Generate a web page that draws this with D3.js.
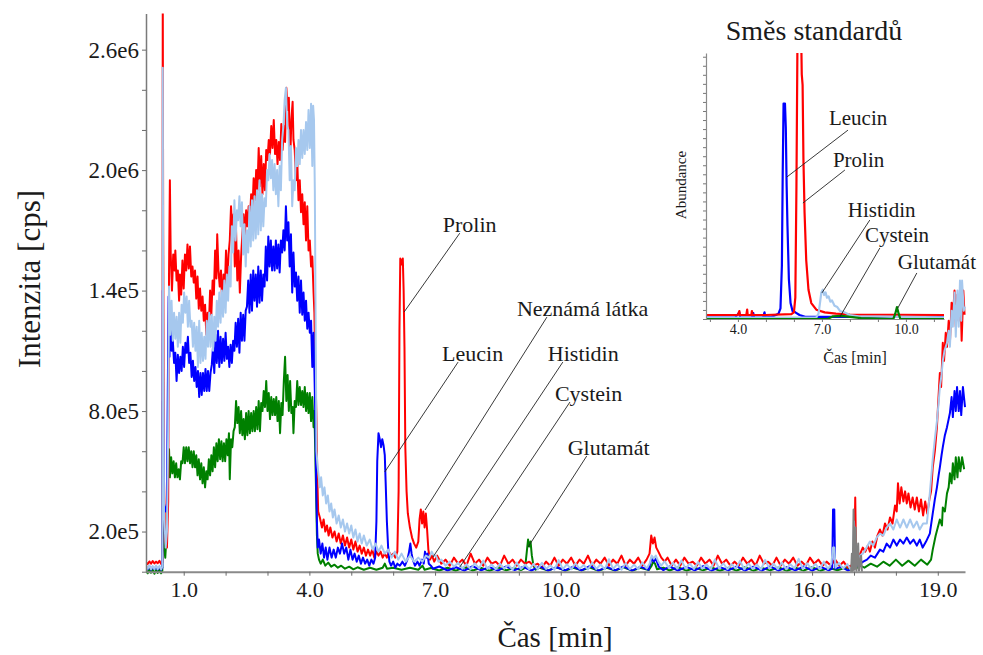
<!DOCTYPE html>
<html>
<head>
<meta charset="utf-8">
<script src="https://cdn.jsdelivr.net/npm/d3@7"></script>
<style>
html, body { margin: 0; padding: 0; background: #fff; }
svg { display: block; font-family: "Liberation Serif", "Times New Roman", serif; }
</style>
</head>
<body>
<svg id="chart" width="983" height="655"></svg>
<script>
// ---- Main chromatogram: time [min] vs intensity (units of 1e4 cps) ----
const timeDomain = [0.1, 19.65];
const intensityDomain = [0, 278];
const yTickValues = [0, 20, 40, 60, 80, 100, 120, 140, 160, 180, 200, 220, 240, 260];
const yLabelValues = [20, 80, 140, 200, 260];
const yTickLabels = ["2.0e5", "8.0e5", "1.4e5", "2.0e6", "2.6e6"];
const xTickValues = [1, 2, 3, 4, 5, 6, 7, 8, 9, 10, 11, 12, 13, 14, 15, 16, 17, 18, 19];
const xLabelValues = [1, 4, 7, 10, 13, 16, 19];
const xTickLabels = ["1.0", "4.0", "7.0", "10.0", "13.0", "16.0", "19.0"];

const red = [
[0.10,4.6],[0.14,3.8],[0.18,5.1],[0.22,4.0],[0.26,5.3],[0.30,4.1],[0.34,5.0],[0.38,4.2],[0.42,5.4],[0.46,3.9],[0.49,4.7],
[0.50,292],[0.51,170],[0.53,45],[0.56,15],[0.60,12],[0.63,35],[0.65,150],[0.67,195],[0.69,158],
[0.72,140],[0.75,158],[0.78,150],[0.80,160],[0.83,145],[0.86,150],[0.89,135],[0.91,148],[0.94,138],[0.97,155],[1.00,141],[1.03,158],[1.06,150],[1.09,163],[1.12,151],[1.15,162],[1.18,147],[1.21,152],[1.24,144],[1.27,150],[1.30,136],[1.33,147],[1.36,131],[1.39,141],[1.42,130],[1.45,137],[1.48,125],[1.51,133],[1.54,118],[1.57,129],[1.60,122],[1.63,140],[1.66,128],[1.69,145],[1.72,138],[1.75,160],[1.78,146],[1.80,168],[1.83,150],[1.86,142],[1.89,150],[1.92,132],[1.95,148],[1.98,140],[2.01,160],[2.04,143],[2.07,158],[2.10,165],[2.13,182],[2.16,168],[2.19,178],[2.22,152],[2.25,170],[2.28,145],[2.31,160],[2.34,139],[2.37,157],[2.40,168],[2.43,178],[2.46,167],[2.49,180],[2.52,172],[2.55,182],[2.58,175],[2.61,188],[2.64,180],[2.67,196],[2.70,185],[2.73,200],[2.76,190],[2.79,211],[2.82,192],[2.85,207],[2.88,188],[2.91,203],[2.94,190],[2.97,210],[3.00,205],[3.03,215],[3.06,208],[3.09,222],[3.12,211],[3.15,225],[3.18,208],[3.21,215],[3.24,203],[3.27,214],[3.30,205],[3.33,223],[3.36,210],[3.39,222],[3.42,214],[3.45,241],[3.48,230],[3.51,236],[3.54,203],[3.57,225],[3.60,234],[3.62,215],[3.65,210],[3.68,195],[3.71,205],[3.74,185],[3.77,195],[3.80,179],[3.83,188],[3.86,173],[3.89,184],[3.92,165],[3.95,182],[3.98,160],[4.01,165],[4.04,152],[4.07,157],[4.10,139],[4.12,129],[4.14,104],[4.17,75],[4.19,46],[4.21,30],
[4.25,27],[4.30,22],[4.34,26],[4.38,20],[4.42,23],[4.46,18],[4.50,22],[4.55,17],[4.60,20],[4.65,15],[4.70,19],[4.75,14],[4.80,18],[4.85,13],[4.90,17],[4.95,12],[5.00,16],[5.05,11],[5.10,15],[5.15,10],[5.20,13],[5.25,9],[5.30,12],[5.35,8],[5.40,11],[5.45,8],[5.50,11],[5.55,7],[5.60,10],[5.65,8],[5.70,10],[5.75,7],[5.80,9],[5.85,7],[5.90,10],[5.95,8],[6.00,9],[6.05,7],[6.10,10],
[6.13,40],[6.15,120],[6.17,156],[6.20,153],[6.23,156],[6.25,140],[6.27,112],[6.29,62],[6.32,40],[6.35,29],[6.40,22],[6.45,17],[6.50,14],[6.55,12],[6.60,15],[6.63,26],[6.66,31],[6.69,24],[6.72,30],[6.75,22],[6.78,29],[6.81,21],[6.84,11],[6.88,6],[6.93,8],[6.98,5],
[7.05,8],[7.15,4],[7.25,6],[7.35,3],[7.45,7],[7.55,4],[7.65,6],[7.75,3],[7.85,9],[7.95,4],[8.05,6],[8.15,3],[8.25,7],[8.35,4],[8.45,5],[8.55,3],[8.65,8],[8.75,4],[8.85,6],[8.95,3],[9.05,6],[9.15,4],[9.25,5],[9.35,3],[9.45,4],[9.55,2],[9.65,5],[9.75,3],[9.85,7],[9.95,3],[10.05,6],[10.15,4],[10.25,7],[10.35,3],[10.45,6],[10.55,4],[10.65,8],[10.75,3],[10.85,6],[10.95,4],[11.05,7],[11.15,3],[11.25,6],[11.35,4],[11.45,8],[11.55,3],[11.65,6],[11.75,4],[11.85,7],[11.95,3],[12.05,6],
[12.12,9],[12.16,18],[12.20,14],[12.24,17],[12.28,12],[12.33,10],[12.40,7],[12.48,5],
[12.55,7],[12.65,3],[12.75,6],[12.85,3],[12.95,7],[13.05,4],[13.15,5],[13.25,3],[13.35,7],[13.45,4],[13.55,6],[13.65,3],[13.75,8],[13.85,4],[13.95,6],[14.05,3],[14.15,5],[14.25,3],[14.35,7],[14.45,4],[14.55,6],[14.65,3],[14.75,8],[14.85,4],[14.95,5],[15.05,3],[15.15,7],[15.25,3],[15.35,6],[15.45,4],[15.55,7],[15.65,3],[15.75,5],[15.85,3],[15.95,7],[16.05,4],[16.15,6],[16.25,3],[16.35,5],[16.45,3],[16.55,6],[16.65,3],[16.75,5],[16.85,2],[16.92,3],[16.97,2],
[17.01,10],[17.03,37],[17.05,8],[17.10,6],[17.15,9],[17.21,12],[17.27,10],[17.33,13],[17.38,10],[17.44,15],[17.50,12],[17.56,18],[17.62,21],[17.68,18],[17.74,24],[17.80,21],[17.86,27],[17.92,24],[17.98,33],[18.02,30],[18.05,44],[18.09,34],[18.13,42],[18.18,35],[18.22,40],[18.26,34],[18.30,39],[18.35,32],[18.40,37],[18.45,31],[18.50,37],[18.55,30],[18.60,36],[18.65,28],[18.70,35],[18.75,29],[18.80,36],[18.84,40],[18.88,52],[18.93,60],[18.98,72],[19.01,84],[19.05,99],[19.08,92],[19.12,114],[19.15,105],[19.19,119],[19.22,112],[19.26,125],[19.29,114],[19.33,134],[19.36,127],[19.40,140],[19.43,122],[19.47,138],[19.50,125],[19.54,140],[19.57,115],[19.61,140],[19.64,128]
];

const blue = [
[0.10,2.5],[0.14,1.2],[0.18,2.8],[0.22,1.0],[0.26,2.4],[0.30,1.3],[0.34,2.6],[0.38,1.1],[0.42,2.2],[0.46,1.0],[0.49,2.0],
[0.50,140],[0.51,70],[0.53,33],[0.57,30],[0.60,34],[0.62,90],[0.64,137],[0.66,107],[0.68,130],[0.71,110],[0.74,115],[0.77,104],[0.80,109],[0.83,95],[0.86,108],[0.89,99],[0.92,107],[0.95,100],[0.98,112],[1.01,102],[1.04,114],[1.07,109],[1.10,117],[1.13,104],[1.16,109],[1.19,97],[1.22,105],[1.25,95],[1.28,102],[1.31,92],[1.34,100],[1.37,87],[1.40,99],[1.43,88],[1.46,99],[1.49,90],[1.52,101],[1.55,90],[1.58,100],[1.61,90],[1.64,99],[1.67,103],[1.70,112],[1.73,99],[1.76,118],[1.79,104],[1.82,120],[1.85,102],[1.88,117],[1.91,104],[1.94,116],[1.97,105],[2.00,119],[2.03,106],[2.06,112],[2.09,102],[2.12,113],[2.15,104],[2.18,115],[2.21,110],[2.24,124],[2.27,112],[2.30,126],[2.33,109],[2.36,129],[2.39,115],[2.42,128],[2.45,115],[2.48,130],[2.51,132],[2.54,145],[2.57,129],[2.60,148],[2.63,130],[2.66,150],[2.69,135],[2.72,148],[2.75,132],[2.78,152],[2.81,134],[2.84,150],[2.87,135],[2.90,148],[2.93,142],[2.96,162],[2.99,145],[3.02,167],[3.05,152],[3.08,165],[3.11,150],[3.14,162],[3.17,150],[3.20,165],[3.23,151],[3.26,163],[3.29,149],[3.32,165],[3.35,159],[3.38,170],[3.41,160],[3.44,182],[3.47,165],[3.50,174],[3.53,152],[3.56,168],[3.59,139],[3.62,159],[3.65,142],[3.68,149],[3.71,135],[3.74,147],[3.77,129],[3.80,145],[3.83,128],[3.86,139],[3.89,125],[3.92,135],[3.95,121],[3.98,129],[4.01,119],[4.04,125],[4.07,102],[4.10,119],[4.12,100],[4.14,79],[4.16,46],[4.18,25],[4.20,12],
[4.23,16],[4.27,9],[4.31,14],[4.35,7],[4.39,12],[4.43,6],[4.48,12],[4.53,7],[4.58,11],[4.63,7],[4.68,12],[4.73,9],[4.78,14],[4.83,9],[4.88,12],[4.93,6],[4.98,11],[5.03,6],[5.08,9],[5.13,5],[5.18,8],[5.23,4],[5.28,7],[5.33,4],[5.38,6],[5.43,3],[5.48,6],[5.53,4],[5.57,7],
[5.60,25],[5.62,55],[5.65,69],[5.68,66],[5.71,62],[5.74,66],[5.77,63],[5.80,58],[5.82,45],[5.85,25],[5.88,12],[5.91,5],[5.95,3],[6.00,5],[6.05,2],[6.10,4],[6.16,3],[6.22,5],[6.28,3],[6.34,6],[6.38,10],[6.41,14],[6.44,9],[6.47,6],[6.52,3],[6.58,5],[6.63,3],[6.69,6],[6.73,4],[6.76,10],[6.79,7],[6.82,9],[6.85,4],[6.90,3],[6.95,1.5],
[7.1,2.6],[7.3,0.6],[7.5,2.2],[7.7,0.5],[7.9,2.8],[8.1,0.7],[8.3,2.3],[8.5,0.5],[8.7,2.6],[8.9,0.8],[9.1,2.4],[9.3,0.6],[9.5,2.7],[9.7,0.5],[9.9,2.2],[10.1,0.7],[10.3,2.5],[10.5,0.6],[10.7,2.9],[10.9,0.5],[11.1,2.3],[11.3,0.7],[11.5,2.6],[11.7,0.5],[11.9,2.4],[12.1,1.0],[12.17,7],[12.22,5],[12.27,6.5],[12.34,2.5],[12.45,0.8],[12.6,2.6],[12.8,0.6],[13.0,2.4],[13.2,0.7],[13.4,2.8],[13.6,0.5],[13.8,2.3],[14.0,0.7],[14.2,2.6],[14.4,0.5],[14.6,2.5],[14.8,0.6],[15.0,2.7],[15.2,0.5],[15.4,2.3],[15.6,0.7],[15.8,2.6],[16.0,0.5],[16.2,2.4],[16.4,0.7],[16.48,1.5],[16.50,31],[16.53,31],[16.55,1.5],[16.7,2.4],[16.85,0.6],[16.97,1.5],
[17.03,6],[17.08,3],[17.15,4],[17.22,5],[17.31,6],[17.40,8],[17.50,7],[17.62,11],[17.70,10],[17.78,14],[17.86,12],[17.94,16],[18.02,13],[18.10,16],[18.18,14],[18.26,17],[18.34,14],[18.42,16],[18.50,13],[18.57,16],[18.64,12],[18.72,15],[18.81,19],[18.88,29],[18.93,36],[18.98,42],[19.02,48],[19.05,52],[19.09,58],[19.12,62],[19.17,68],[19.22,72],[19.26,76],[19.29,79],[19.33,87],[19.36,77],[19.40,90],[19.43,80],[19.46,92],[19.50,80],[19.53,90],[19.56,78],[19.60,92],[19.65,82]
];

const lightBlue = [
[0.10,3.0],[0.14,1.5],[0.18,3.2],[0.22,1.2],[0.26,2.8],[0.30,1.4],[0.34,3.1],[0.38,1.3],[0.42,2.9],[0.46,1.2],[0.49,2.5],
[0.50,251],[0.51,120],[0.53,30],[0.57,12],[0.60,20],[0.63,70],[0.65,142],[0.68,118],[0.71,135],[0.74,115],[0.77,129],[0.80,116],[0.83,127],[0.86,112],[0.89,129],[0.92,114],[0.95,133],[0.98,124],[1.01,139],[1.04,129],[1.07,137],[1.10,122],[1.13,135],[1.16,122],[1.19,125],[1.22,112],[1.25,124],[1.28,110],[1.31,122],[1.34,102],[1.37,125],[1.40,104],[1.43,119],[1.46,105],[1.49,117],[1.52,106],[1.55,125],[1.58,112],[1.61,129],[1.64,112],[1.67,128],[1.70,110],[1.73,127],[1.76,115],[1.79,135],[1.82,122],[1.85,139],[1.88,124],[1.91,140],[1.94,127],[1.97,145],[2.00,129],[2.03,148],[2.06,135],[2.09,152],[2.12,142],[2.15,172],[2.18,159],[2.21,185],[2.24,165],[2.27,180],[2.30,175],[2.33,187],[2.36,172],[2.39,184],[2.42,158],[2.45,173],[2.48,152],[2.51,170],[2.54,159],[2.57,182],[2.60,162],[2.63,185],[2.66,165],[2.69,187],[2.72,166],[2.75,190],[2.78,168],[2.81,195],[2.84,170],[2.87,188],[2.90,172],[2.93,186],[2.96,182],[2.99,200],[3.02,195],[3.05,208],[3.08,196],[3.11,205],[3.14,190],[3.17,203],[3.20,188],[3.23,200],[3.26,182],[3.29,202],[3.32,190],[3.35,215],[3.38,222],[3.41,235],[3.44,241],[3.47,222],[3.50,220],[3.53,195],[3.56,212],[3.59,182],[3.62,195],[3.65,190],[3.68,211],[3.71,202],[3.74,215],[3.77,203],[3.80,220],[3.83,206],[3.86,220],[3.89,208],[3.92,224],[3.95,210],[3.98,230],[4.01,211],[4.04,233],[4.07,202],[4.09,232],[4.11,225],[4.13,190],[4.15,120],[4.17,60],[4.19,54],
[4.22,48],[4.25,42],[4.28,47],[4.32,38],[4.36,42],[4.40,34],[4.44,38],[4.48,30],[4.52,34],[4.56,27],[4.60,31],[4.65,24],[4.70,28],[4.75,22],[4.80,26],[4.85,20],[4.90,24],[4.95,19],[5.00,23],[5.05,17],[5.10,21],[5.15,15],[5.20,19],[5.25,14],[5.30,18],[5.37,13],[5.44,16],[5.51,11],[5.58,14],[5.65,10],[5.72,13],[5.80,9],[5.88,11],[5.96,7],[6.04,10],[6.12,6],[6.20,9],[6.30,5],[6.40,8],[6.50,5],[6.60,7],[6.70,5],[6.78,8],[6.86,7],[6.92,10],[6.97,8],[7.02,8],[7.08,5],[7.15,6],[7.25,3],[7.35,5],[7.45,2.5],
[7.55,4.5],[7.65,1.5],[7.75,3.8],[7.85,1.2],[7.95,4.2],[8.05,1.6],[8.15,5.5],[8.25,1.4],[8.35,3.6],[8.45,1.2],[8.55,4.0],[8.65,1.5],[8.75,3.4],[8.85,1.0],[8.95,4.6],[9.05,1.3],[9.15,3.5],[9.25,1.2],[9.35,3.9],[9.45,1.1],[9.55,4.4],[9.65,1.4],[9.75,3.2],[9.85,1.0],[9.95,5.8],[10.05,1.3],[10.15,3.7],[10.25,1.2],[10.35,4.1],[10.45,1.5],[10.55,3.3],[10.65,1.1],[10.75,4.5],[10.85,1.3],[10.95,3.6],[11.05,1.2],[11.15,6.2],[11.25,1.4],[11.35,3.8],[11.45,1.0],[11.55,4.2],[11.65,1.3],[11.75,3.5],[11.85,1.2],[11.95,4.6],[12.05,1.6],
[12.12,4],[12.17,8],[12.22,6.5],[12.27,8],[12.33,5],[12.40,3],
[12.48,5.2],[12.58,1.8],[12.68,4.4],[12.78,1.5],[12.88,5.6],[12.98,1.6],[13.08,4.0],[13.18,1.4],[13.28,4.8],[13.38,1.5],[13.48,3.7],[13.58,1.2],[13.68,6.0],[13.78,1.6],[13.88,4.2],[13.98,1.3],[14.08,3.8],[14.18,1.5],[14.28,5.4],[14.38,1.2],[14.48,4.1],[14.58,1.4],[14.68,3.6],[14.78,1.1],[14.88,5.9],[14.98,1.5],[15.08,4.0],[15.18,1.3],[15.28,4.6],[15.38,1.2],[15.48,3.8],[15.58,1.6],[15.68,6.4],[15.78,1.3],[15.88,4.2],[15.98,1.5],[16.08,3.9],[16.18,1.2],[16.28,5.0],[16.38,1.4],[16.46,4.0],[16.50,12],[16.53,12],[16.56,2],[16.64,4.4],[16.74,1.5],[16.84,3.8],[16.92,1.0],[16.97,2.0],
[17.00,25],[17.03,10],[17.08,6],[17.14,8],[17.21,9],[17.30,12],[17.38,15],[17.46,13],[17.54,17],[17.62,19],[17.70,18],[17.78,22],[17.86,24],[17.94,21],[18.02,26],[18.10,22],[18.18,26],[18.26,22],[18.34,26],[18.42,22],[18.50,25],[18.57,21],[18.65,24],[18.74,24],[18.81,39],[18.88,56],[18.93,66],[18.98,75],[19.02,84],[19.05,92],[19.09,98],[19.12,105],[19.16,110],[19.22,114],[19.26,120],[19.29,112],[19.33,130],[19.36,122],[19.40,139],[19.43,117],[19.47,140],[19.50,122],[19.53,145],[19.56,125],[19.58,145],[19.62,130],[19.65,132]
];

const green = [
[0.10,1.0],[0.14,-0.8],[0.18,1.2],[0.22,-0.5],[0.26,1.0],[0.30,-1.0],[0.34,0.8],[0.38,-0.6],[0.42,1.1],[0.46,-0.8],[0.49,0.5],
[0.50,85],[0.51,40],[0.53,12],[0.56,7],[0.59,18],[0.61,32],[0.63,50],[0.65,61],[0.67,47],[0.70,57],[0.73,49],[0.76,55],[0.79,47],[0.82,54],[0.85,47],[0.88,51],[0.91,46],[0.94,55],[0.97,54],[1.00,62],[1.03,54],[1.06,62],[1.09,55],[1.12,62],[1.15,54],[1.18,60],[1.21,52],[1.24,60],[1.27,52],[1.30,58],[1.33,48],[1.36,56],[1.39,46],[1.42,54],[1.45,44],[1.48,52],[1.51,42],[1.54,50],[1.57,46],[1.60,56],[1.63,48],[1.66,58],[1.69,50],[1.72,62],[1.75,52],[1.78,64],[1.81,55],[1.84,66],[1.87,56],[1.90,65],[1.93,55],[1.96,64],[1.99,55],[2.02,66],[2.05,58],[2.08,69],[2.10,46],[2.13,66],[2.16,62],[2.19,70],[2.22,72],[2.25,85],[2.28,74],[2.31,82],[2.34,69],[2.37,80],[2.40,68],[2.43,76],[2.46,66],[2.49,79],[2.52,68],[2.55,80],[2.58,69],[2.61,79],[2.64,70],[2.67,80],[2.70,70],[2.73,82],[2.76,71],[2.79,85],[2.82,70],[2.85,84],[2.88,80],[2.91,90],[2.94,82],[2.97,95],[3.00,80],[3.03,89],[3.06,76],[3.09,87],[3.12,78],[3.15,86],[3.18,78],[3.21,87],[3.24,75],[3.27,85],[3.30,69],[3.33,84],[3.36,78],[3.39,95],[3.42,107],[3.45,85],[3.48,98],[3.51,80],[3.54,95],[3.57,79],[3.60,82],[3.62,69],[3.65,85],[3.68,82],[3.71,95],[3.74,83],[3.77,92],[3.80,83],[3.83,90],[3.86,82],[3.89,92],[3.92,80],[3.95,89],[3.98,79],[4.01,89],[4.04,75],[4.07,87],[4.10,72],[4.12,80],[4.14,60],[4.16,40],[4.18,18],[4.20,9],
[4.23,6],[4.27,4],[4.32,6],[4.38,3],[4.45,4.5],[4.52,2.5],[4.60,3.5],[4.68,2],[4.76,3],[4.85,1.5],[4.95,2.5],[5.05,1.2],[5.15,2.2],[5.30,1.0],[5.45,2.0],[5.60,1.0],[5.75,2.0],[5.80,4],[5.85,1.5],[6.00,2.0],[6.20,1.0],[6.40,2.0],[6.60,1.0],[6.70,3],[6.75,1.0],[6.90,1.8],
[7.1,0.6],[7.3,2.0],[7.5,0.5],[7.7,2.2],[7.9,0.6],[8.1,1.9],[8.3,0.5],[8.5,2.1],[8.7,0.7],[8.9,1.8],[9.05,0.8],[9.12,1.5],[9.16,4],[9.19,10],[9.22,16],[9.25,12.5],[9.28,15],[9.31,8],[9.35,3],[9.40,1.0],[9.5,2.0],[9.7,0.6],[9.9,2.2],[10.1,0.5],[10.3,1.9],[10.5,0.7],[10.7,2.1],[10.9,0.5],[11.1,2.0],[11.3,0.6],[11.5,2.2],[11.7,0.5],[11.9,1.9],[12.1,0.8],[12.17,3],[12.21,5],[12.25,4],[12.30,1.2],[12.45,2.0],[12.6,0.6],[12.8,2.2],[13.0,0.5],[13.2,1.9],[13.4,0.7],[13.6,2.1],[13.8,0.5],[14.0,2.0],[14.2,0.6],[14.4,2.2],[14.6,0.5],[14.8,1.9],[15.0,0.7],[15.2,2.1],[15.4,0.5],[15.6,2.0],[15.8,0.6],[16.0,2.2],[16.2,0.5],[16.4,1.9],[16.6,0.7],[16.8,2.0],[16.95,0.5],
[17.02,3],[17.06,10],[17.09,2],[17.15,3],[17.25,2],[17.40,4],[17.55,2.5],[17.70,5],[17.85,3],[18.00,6],[18.15,3],[18.30,5.5],[18.45,3],[18.60,6],[18.75,3.5],[18.84,6],[18.88,11],[18.95,18],[19.05,26],[19.10,23],[19.12,32],[19.17,30],[19.22,39],[19.26,42],[19.29,49],[19.33,44],[19.36,54],[19.40,46],[19.43,57],[19.47,47],[19.50,57],[19.54,50],[19.58,57],[19.63,51]
];

const gray = [
[16.93,0],[16.95,9],[16.97,0.5],[16.99,31],[17.01,1],[17.04,22],[17.06,0.5],[17.10,14],[17.12,0.5],[17.17,8],[17.19,0]
];

// Peak annotations: label anchor (t0, v0) and the point on the trace it marks (t1, v1)
const peakNotes = [
  { text: "Prolin",        t0: 7.59,  v0: 168.6, t1: 6.26, v1: 129.3, dx: -17 },
  { text: "Leucin",        t0: 7.55,  v0: 104.4, t1: 5.80, v1: 49.7,  dx: -16 },
  { text: "Neznámá látka", t0: 9.67,  v0: 126.8, t1: 6.76, v1: 30.7,  dx: -30 },
  { text: "Histidin",      t0: 10.05, v0: 104.4, t1: 6.95, v1: 7.3,   dx: -15 },
  { text: "Cystein",       t0: 10.22, v0: 84.5,  t1: 7.59, v1: 2.3,   dx: -15 },
  { text: "Glutamát",      t0: 10.62, v0: 57.6,  t1: 9.22, v1: 12.3,  dx: -19 }
];

// ---- Inset: standard mixture (relative abundance, %) ----
const insetTimeDomain = [2.86, 11.36];
const insetAbundanceDomain = [0, 100];
const insetXTickValues = [3, 4, 5, 6, 7, 8, 9, 10, 11];
const insetXLabelValues = [4, 7, 10];
const insetXTickLabels = ["4.0", "7.0", "10.0"];

const insetLeucin = [
[2.86,0.5],[3.9,0.5],[4.05,2.5],[4.08,0.5],[4.5,0.5],[4.55,2.2],[4.58,0.5],[4.9,0.6],[4.95,2.5],[4.98,0.6],[5.2,0.8],[5.35,1.5],[5.45,2],[5.52,4],[5.57,20],[5.60,55],[5.63,81],[5.68,81],[5.71,72],[5.74,50],[5.77,35],[5.82,15],[5.88,6],[5.95,3],[6.05,2.5],[6.2,1.5],[6.4,0.8],[11.36,0.8]
];
const insetProlin = [
[2.86,1.5],[4.0,1.5],[4.05,3],[4.07,1.5],[4.3,1.5],[4.33,3.5],[4.35,1.5],[4.48,1.5],[4.5,3],[4.52,1.5],[5.0,1.5],[5.9,1.8],[6.0,2.5],[6.05,8],[6.09,50],[6.13,110],[6.18,128],[6.24,120],[6.28,92],[6.31,88],[6.34,60],[6.38,40],[6.44,22],[6.52,11],[6.62,6],[6.8,3.5],[7.1,2.5],[7.5,2],[8.0,1.7],[11.36,1.5]
];
const insetHistidin = [
[2.86,0.5],[6.8,0.6],[6.88,2],[6.93,6],[6.98,10],[7.03,11],[7.08,9],[7.13,10],[7.18,8],[7.24,8.5],[7.30,6.5],[7.36,7],[7.45,5],[7.55,4.5],[7.65,3],[7.8,2.5],[8.0,1.5],[8.3,1],[11.36,0.6]
];
const insetGreen = [
[2.86,0],[7.2,0],[7.4,1],[7.7,1.2],[8.0,0.8],[8.4,0.3],[9.55,0],[9.62,2],[9.68,4.5],[9.74,2],[9.80,0],[11.36,0]
];
const insetNotes = [
  { text: "Leucin",   t0: 7.93,  v0: 71.0, t1: 5.75, v1: 53.4, dx: -19, dy: -5 },
  { text: "Prolin",   t0: 7.82,  v0: 56.0, t1: 6.32, v1: 43.6, dx: -12, dy: -3 },
  { text: "Histidin", t0: 8.71,  v0: 37.2, t1: 7.00, v1: 9.8,  dx: -22, dy: -3 },
  { text: "Cystein",  t0: 9.07,  v0: 26.7, t1: 7.64, v1: 0.75, dx: -15, dy: -6 },
  { text: "Glutamát", t0: 10.39, v0: 17.3, t1: 9.71, v1: 4.1,  dx: -19, dy: -4 }
];

// ---- Drawing ----
const FONT = "Liberation Serif, Times New Roman, serif";
const INK = "#1a1a1a";
const svg = d3.select("#chart");

const x = d3.scaleLinear().domain(timeDomain).range([146, 965]);
const y = d3.scaleLinear().domain(intensityDomain).range([571.7, 13.5]);

svg.append("clipPath").attr("id", "plotClip")
  .append("rect").attr("x", 146).attr("y", 13.5).attr("width", 820).attr("height", 566);

const line = d3.line().x(d => x(d[0])).y(d => y(d[1]));
const traces = [
  { data: green, color: "#008000" },
  { data: red, color: "#ff0000" },
  { data: blue, color: "#0000ff" },
  { data: lightBlue, color: "#a6c8ee" },
  { data: gray, color: "#808080" }
];
const plot = svg.append("g").attr("clip-path", "url(#plotClip)");
plot.selectAll("path.trace").data(traces).join("path")
  .attr("class", "trace")
  .attr("fill", "none")
  .attr("stroke", d => d.color)
  .attr("stroke-width", 2)
  .attr("stroke-linejoin", "round")
  .attr("d", d => line(d.data));

// axes
const gx = svg.append("g")
  .attr("transform", `translate(0,${y(0)})`)
  .call(d3.axisBottom(x).tickValues(xTickValues).tickSize(4).tickSizeOuter(0).tickPadding(6)
    .tickFormat(d => { const i = xLabelValues.indexOf(d); return i < 0 ? "" : xTickLabels[i]; }));
gx.attr("font-family", FONT).attr("font-size", 22);
gx.select(".domain").attr("stroke", "#8a8a8a").attr("stroke-width", 2);
gx.selectAll(".tick line").attr("stroke", "#6a6a6a");
gx.selectAll(".tick text").attr("fill", INK);
gx.selectAll(".tick").filter(d => d === 13).select("text").attr("font-size", 24).attr("y", 11);

const gy = svg.append("g")
  .attr("transform", `translate(${x(timeDomain[0])},0)`)
  .call(d3.axisLeft(y).tickValues(yTickValues).tickSize(4).tickSizeOuter(0).tickPadding(3)
    .tickFormat(d => { const i = yLabelValues.indexOf(d); return i < 0 ? "" : yTickLabels[i]; }));
gy.attr("font-family", FONT).attr("font-size", 23);
gy.select(".domain").attr("stroke", "#7a7a7a").attr("stroke-width", 1.5);
gy.selectAll(".tick line").attr("stroke", "#6a6a6a");
gy.selectAll(".tick text").attr("fill", INK);

svg.append("text")
  .attr("transform", "translate(40,279) rotate(-90)")
  .attr("text-anchor", "middle")
  .attr("font-family", FONT).attr("font-size", 31).attr("fill", INK)
  .text("Intenzita [cps]");
svg.append("text")
  .attr("x", 555).attr("y", 647)
  .attr("text-anchor", "middle")
  .attr("font-family", FONT).attr("font-size", 29).attr("fill", INK)
  .text("Čas [min]");

// peak labels with leader lines
const notes = svg.append("g");
notes.selectAll("line").data(peakNotes).join("line")
  .attr("x1", d => x(d.t0)).attr("y1", d => y(d.v0))
  .attr("x2", d => x(d.t1)).attr("y2", d => y(d.v1))
  .attr("stroke", "#222").attr("stroke-width", 0.9);
notes.selectAll("text").data(peakNotes).join("text")
  .attr("x", d => x(d.t0) + d.dx).attr("y", d => y(d.v0) - 1)
  .attr("font-family", FONT).attr("font-size", 22).attr("fill", INK)
  .text(d => d.text);

// ---- inset ----
const ix = d3.scaleLinear().domain(insetTimeDomain).range([706, 944]);
const iy = d3.scaleLinear().domain(insetAbundanceDomain).range([319, 53]);
svg.append("clipPath").attr("id", "insetClip")
  .append("rect").attr("x", 706).attr("y", 53).attr("width", 239).attr("height", 268);

const iline = d3.line().x(d => ix(d[0])).y(d => iy(d[1]));
const insetTraces = [
  { data: insetLeucin, color: "#0000ff" },
  { data: insetProlin, color: "#ff0000" },
  { data: insetHistidin, color: "#a6c8ee" },
  { data: insetGreen, color: "#008000" }
];
svg.append("g").attr("clip-path", "url(#insetClip)")
  .selectAll("path").data(insetTraces).join("path")
  .attr("fill", "none")
  .attr("stroke", d => d.color)
  .attr("stroke-width", 2.2)
  .attr("stroke-linejoin", "round")
  .attr("d", d => iline(d.data));

const igx = svg.append("g")
  .attr("transform", `translate(0,${iy(0)})`)
  .call(d3.axisBottom(ix).tickValues(insetXTickValues).tickSize(3).tickSizeOuter(0).tickPadding(2)
    .tickFormat(d => { const i = insetXLabelValues.indexOf(d); return i < 0 ? "" : insetXTickLabels[i]; }));
igx.attr("font-family", FONT).attr("font-size", 14);
igx.select(".domain").attr("stroke", "#8a8a8a").attr("stroke-width", 1.2);
igx.selectAll(".tick line").attr("stroke", "#777");
igx.selectAll(".tick text").attr("fill", INK);

const igy = svg.append("g")
  .attr("transform", `translate(${ix(insetTimeDomain[0])},0)`)
  .call(d3.axisLeft(iy).tickValues(d3.range(0, 100, 3.4)).tickSize(3).tickSizeOuter(0).tickFormat(""));
igy.select(".domain").attr("stroke", "#8a8a8a").attr("stroke-width", 1.2);
igy.selectAll(".tick line").attr("stroke", "#777");

svg.append("text")
  .attr("x", 814).attr("y", 40).attr("text-anchor", "middle")
  .attr("font-family", FONT).attr("font-size", 28).attr("fill", INK)
  .text("Směs standardů");
svg.append("text")
  .attr("transform", "translate(686,185) rotate(-90)")
  .attr("text-anchor", "middle")
  .attr("font-family", FONT).attr("font-size", 15).attr("fill", INK)
  .text("Abundance");
svg.append("text")
  .attr("x", 855).attr("y", 363).attr("text-anchor", "middle")
  .attr("font-family", FONT).attr("font-size", 16).attr("fill", INK)
  .text("Čas [min]");

const inotes = svg.append("g");
inotes.selectAll("line").data(insetNotes).join("line")
  .attr("x1", d => ix(d.t0)).attr("y1", d => iy(d.v0))
  .attr("x2", d => ix(d.t1)).attr("y2", d => iy(d.v1))
  .attr("stroke", "#222").attr("stroke-width", 0.9);
inotes.selectAll("text").data(insetNotes).join("text")
  .attr("x", d => ix(d.t0) + d.dx).attr("y", d => iy(d.v0) + d.dy)
  .attr("font-family", FONT).attr("font-size", 21).attr("fill", INK)
  .text(d => d.text);
</script>
</body>
</html>
